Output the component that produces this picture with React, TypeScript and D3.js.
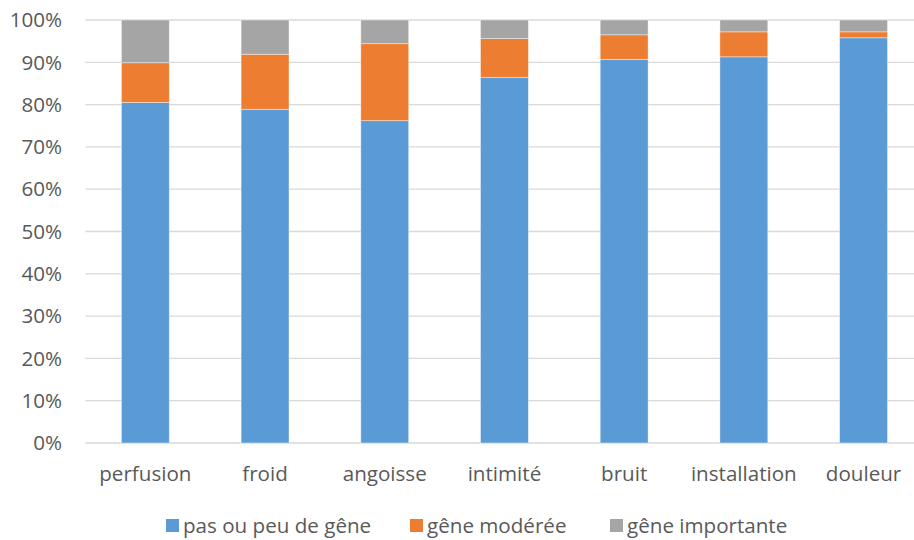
import React from "react";
import * as d3 from "d3";

const categories = ["perfusion", "froid", "angoisse", "intimité", "bruit", "installation", "douleur"];
const seriesNames = ["pas ou peu de gêne", "gêne modérée", "gêne importante"];
const pasOuPeu = [80.5, 78.9, 76.2, 86.4, 90.7, 91.3, 95.8];
const moderee = [9.4, 13.0, 18.2, 9.2, 5.8, 5.9, 1.4];
const importante = [10.1, 8.1, 5.6, 4.4, 3.5, 2.8, 2.8];
const yTicks = [0, 10, 20, 30, 40, 50, 60, 70, 80, 90, 100];
const colors = ["#5B9BD5", "#ED7D31", "#A5A5A5"];

const W = 914;
const H = 540;
const FONT = "'Open Sans', 'Noto Sans', sans-serif";
const FS = 20.6;

export default function App() {
  const x = d3
    .scaleBand<string>()
    .domain(categories)
    .range([85.5, 923.4])
    .paddingInner(0.6)
    .paddingOuter(0.3);
  const y = d3.scaleLinear().domain([0, 100]).range([443, 20]);

  const rows = categories.map((c, i) => ({
    cat: c,
    s0: pasOuPeu[i],
    s1: moderee[i],
    s2: importante[i],
  }));
  const stack = d3.stack<any>().keys(["s0", "s1", "s2"]);
  const layers = stack(rows);

  const legendItems = [
    { x: 166, tx: 183 },
    { x: 410, tx: 427 },
    { x: 610, tx: 627 },
  ];

  return (
    <svg
      width={W}
      height={H}
      style={{ position: "absolute", left: 0, top: 0, background: "#fff" }}
      fontFamily={FONT}
    >
      <rect x={0} y={0} width={W} height={H} fill="#fff" />
      {yTicks.map((t) => (
        <g key={t}>
          <line x1={85.5} x2={W} y1={y(t)} y2={y(t)} stroke="#D9D9D9" strokeWidth={1.3} />
          <text
            x={62}
            y={y(t)}
            dy="0.35em"
            textAnchor="end"
            fontSize={FS}
            fill="#595959"
          >
            {t + "%"}
          </text>
        </g>
      ))}
      {layers.map((layer, li) => (
        <g key={li}>
          {layer.map((d: any, i: number) => (
            <rect
              key={i}
              x={x(categories[i])}
              width={x.bandwidth()}
              y={y(d[1])}
              height={y(d[0]) - y(d[1])}
              fill={colors[li]}
              stroke="#fff"
              strokeOpacity={0.5}
              strokeWidth={0.8}
            />
          ))}
        </g>
      ))}
      {categories.map((c) => (
        <text
          key={c}
          x={(x(c) as number) + x.bandwidth() / 2}
          y={474}
          dy="0.35em"
          textAnchor="middle"
          fontSize={FS}
          fill="#595959"
        >
          {c}
        </text>
      ))}
      {seriesNames.map((s, i) => (
        <g key={s}>
          <rect x={legendItems[i].x} y={519} width={13} height={13} fill={colors[i]} />
          <text
            x={legendItems[i].tx}
            y={526}
            dy="0.35em"
            fontSize={FS}
            fill="#595959"
          >
            {s}
          </text>
        </g>
      ))}
    </svg>
  );
}
